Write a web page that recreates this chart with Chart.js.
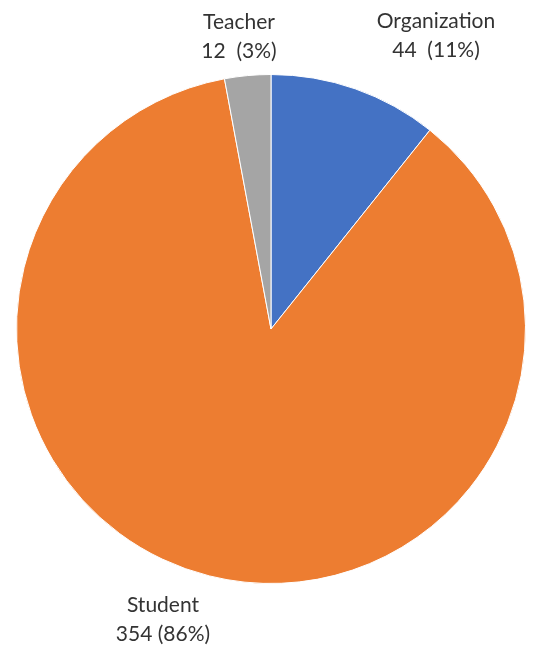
<!DOCTYPE html>
<html>
<head>
<meta charset="utf-8">
<script src="https://cdn.jsdelivr.net/npm/chart.js@4/dist/chart.umd.min.js"></script>
<style>
  html, body { margin: 0; padding: 0; background: #fff; }
  #wrap { position: relative; width: 536px; height: 645px; }
</style>
</head>
<body>
<div id="wrap"><canvas id="pie-chart" width="536" height="645"></canvas></div>
<script>
// data
const categories = ["Organization", "Student", "Teacher"];
const counts = [44, 354, 12];
const percents = ["11%", "86%", "3%"];
const sliceColors = ["#4472C4", "#ED7D31", "#A5A5A5"];

// where each slice's label sits (centre x, first baseline y)
const labelPos = [
  { x: 436, y: 28, gap: "  " },
  { x: 163, y: 612, gap: " " },
  { x: 239, y: 29, gap: "  " }
];

const outsideLabels = {
  id: "outsideLabels",
  afterDraw(chart) {
    const ctx = chart.ctx;
    ctx.save();
    ctx.fillStyle = "#333333";
    ctx.font = "21px Lato";
    ctx.textAlign = "center";
    ctx.textBaseline = "alphabetic";
    categories.forEach((name, i) => {
      const p = labelPos[i];
      ctx.fillText(name, p.x, p.y);
      ctx.fillText(counts[i] + p.gap + "(" + percents[i] + ")", p.x, p.y + 29);
    });
    ctx.restore();
  }
};

function initChart() {
  const ctx = document.getElementById("pie-chart").getContext("2d");
  new Chart(ctx, {
    type: "pie",
    data: {
      labels: categories,
      datasets: [{
        data: counts,
        backgroundColor: sliceColors,
        borderColor: "#ffffff",
        borderWidth: 1
      }]
    },
    options: {
      responsive: false,
      animation: false,
      layout: {
        padding: { left: 16, right: 10, top: 74, bottom: 61 }
      },
      plugins: {
        legend: { display: false },
        tooltip: { enabled: false }
      }
    },
    plugins: [outsideLabels]
  });
}

initChart();
</script>
</body>
</html>
